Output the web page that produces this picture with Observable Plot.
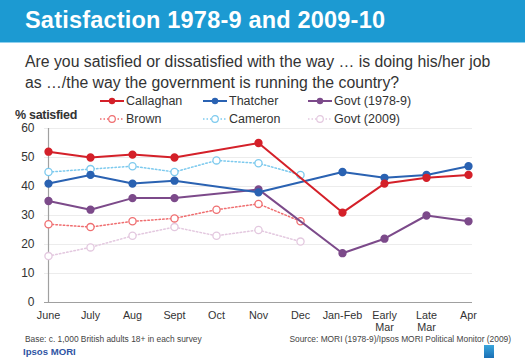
<!DOCTYPE html>
<html>
<head>
<meta charset="utf-8">
<script src="https://cdn.jsdelivr.net/npm/d3@7"></script>
<script src="https://cdn.jsdelivr.net/npm/@observablehq/plot@0.6"></script>
<style>
  html, body { margin: 0; padding: 0; background: #fff; }
  #wrap { position: relative; width: 525px; height: 362px; overflow: hidden; font-family: "Liberation Sans", Arial, sans-serif; color: #333; }
  #bar { position: absolute; left: 0; top: 0; width: 525px; height: 42px; background: #1c9ad2; border-bottom: 1px solid #8fd0ee; }
  #title { position: absolute; left: 25px; top: 7px; font-size: 23.5px; font-weight: bold; color: #fff; white-space: nowrap; letter-spacing: 0.2px; }
  #sub { position: absolute; left: 25px; top: 51px; font-size: 15.8px; line-height: 21px; color: #333; white-space: nowrap; }
  #ylab { position: absolute; left: 15px; top: 108px; font-size: 12.5px; font-weight: bold; color: #333; white-space: nowrap; letter-spacing: -0.3px; }
  #legend { position: absolute; left: 0; top: 0; }
  .li { position: absolute; display: flex; align-items: center; font-size: 12.5px; color: #333; white-space: nowrap; }
  .li svg { margin-right: 2px; }
  #chart { position: absolute; left: 0; top: 0; }
  #base { position: absolute; left: 25px; top: 334px; font-size: 8.4px; color: #444; white-space: nowrap; }
  #source { position: absolute; right: 14px; top: 334px; font-size: 8.4px; color: #444; white-space: nowrap; }
  #ipsos { position: absolute; left: 23px; top: 345.5px; font-size: 9.6px; font-weight: bold; color: #2f55a4; white-space: nowrap; }
  #logo { position: absolute; left: 484px; top: 345px; width: 10px; height: 13px; background: linear-gradient(#3aa6dc, #1a6fb5); }
</style>
</head>
<body>
<div id="wrap">
  <div id="bar"></div>
  <div id="title">Satisfaction 1978-9 and 2009-10</div>
  <div id="sub">Are you satisfied or dissatisfied with the way … is doing his/her job<br>as …/the way the government is running the country?</div>
  <div id="chart"></div>
  <div id="legend"></div>
  <div id="ylab">% satisfied</div>
  <div id="base">Base: c. 1,000 British adults 18+ in each survey</div>
  <div id="source">Source: MORI (1978-9)/Ipsos MORI Political Monitor (2009)</div>
  <div id="ipsos">Ipsos MORI</div>
  <div id="logo"></div>
</div>
<script>
const months = ["June","July","Aug","Sept","Oct","Nov","Dec","Jan-Feb","Early Mar","Late Mar","Apr"];
const monthLabels = ["June","July","Aug","Sept","Oct","Nov","Dec","Jan-Feb","Early\nMar","Late\nMar","Apr"];
const yTicks = [0,10,20,30,40,50,60];

const callaghan = [52,50,51,50,null,55,null,31,41,43,44];
const thatcher  = [41,44,41,42,null,38,null,45,43,44,47];
const govt1978  = [35,32,36,36,null,39,null,17,22,30,28];
const brown     = [27,26,28,29,32,34,28,null,null,null,null];
const cameron   = [45,46,47,45,49,48,44,null,null,null,null];
const govt2009  = [16,19,23,26,23,25,21,null,null,null,null];

const seriesNames = ["Callaghan","Thatcher","Govt (1978-9)","Brown","Cameron","Govt (2009)"];
const seriesValues = [callaghan, thatcher, govt1978, brown, cameron, govt2009];
const seriesColors = ["#d42029","#2a62b2","#7c4a8a","#ef6e70","#7dcaee","#e3c8df"];
const seriesDotted = [false,false,false,true,true,true];

const rows = [];
seriesNames.forEach((name, i) => {
  seriesValues[i].forEach((v, j) => {
    if (v != null) rows.push({series: name, month: months[j], value: v});
  });
});

const marks = [
  Plot.gridY(yTicks, {stroke: "#ececec", strokeOpacity: 1}),
  Plot.ruleY([0], {stroke: "#a0a0a0", strokeWidth: 1.2}),
  Plot.ruleX([months[0]], {y1: 0, y2: 60, stroke: "#a0a0a0", strokeWidth: 1.2}),
  Plot.axisY(yTicks, {tickSize: 0, tickPadding: 10, fontSize: 12, fill: "#333", label: null}),
  Plot.axisX({tickSize: 0, tickPadding: 8, fontSize: 10.8, fill: "#333", label: null, lineHeight: 1.1,
    tickFormat: (d) => monthLabels[months.indexOf(d)]})
];
// dotted series drawn first, solid on top
const order = [5,4,3,2,1,0];
order.forEach(i => {
  const name = seriesNames[i];
  const data = rows.filter(r => r.series === name);
  const c = seriesColors[i];
  if (seriesDotted[i]) {
    marks.push(Plot.line(data, {x: "month", y: "value", stroke: c, strokeWidth: 1.5, strokeDasharray: "1.5,2.2", curve: "linear"}));
    marks.push(Plot.dot(data, {x: "month", y: "value", r: 3.6, stroke: c, strokeWidth: 1.3, fill: "#fff"}));
  } else {
    marks.push(Plot.line(data, {x: "month", y: "value", stroke: c, strokeWidth: 2, curve: "linear"}));
    marks.push(Plot.dot(data, {x: "month", y: "value", r: 3.4, fill: c, stroke: c}));
  }
});

const chart = Plot.plot({
  width: 525,
  height: 362,
  marginTop: 128,
  marginBottom: 60,
  marginLeft: 44,
  marginRight: 53,
  style: {background: "transparent", fontFamily: "'Liberation Sans', Arial, sans-serif"},
  x: {type: "point", domain: months, padding: 0},
  y: {domain: [0, 60]},
  marks
});
document.getElementById("chart").appendChild(chart);

// legend
const legendPos = [[100,101],[203,101],[308,101],[100,119],[203,119],[308,119]];
const legend = document.getElementById("legend");
seriesNames.forEach((name, i) => {
  const [lx, ly] = legendPos[i];
  const c = seriesColors[i];
  const div = document.createElement("div");
  div.className = "li";
  div.style.left = lx + "px";
  div.style.top = (ly - 8) + "px";
  div.style.height = "16px";
  const dash = seriesDotted[i] ? ' stroke-dasharray="1.5,2"' : '';
  const sw = seriesDotted[i] ? 1.5 : 2;
  const circ = seriesDotted[i]
    ? `<circle cx="12" cy="8" r="3.3" fill="#fff" stroke="${c}" stroke-width="1.2"/>`
    : `<circle cx="12" cy="8" r="3.2" fill="${c}"/>`;
  div.innerHTML = `<svg width="24" height="16"><line x1="0" x2="24" y1="8" y2="8" stroke="${c}" stroke-width="${sw}"${dash}/>${circ}</svg><span>${name}</span>`;
  legend.appendChild(div);
});
</script>
</body>
</html>
